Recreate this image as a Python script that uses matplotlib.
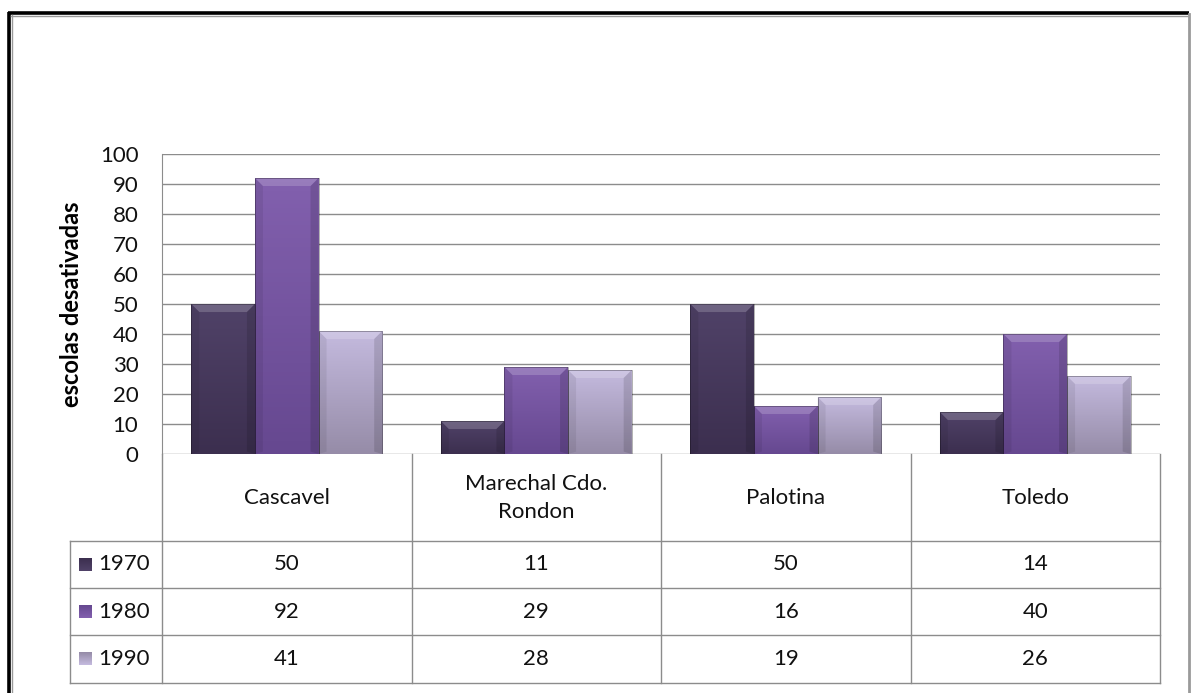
import matplotlib
matplotlib.use('Agg')
import matplotlib.pyplot as plt
import numpy as np
from matplotlib.colors import LinearSegmentedColormap
from matplotlib.patches import Polygon, Rectangle
from matplotlib.transforms import blended_transform_factory

plt.rcParams['font.family'] = ['Lato', 'DejaVu Sans']

# escolas desativadas por município e década
municipios = ['Cascavel', 'Marechal Cdo.\nRondon', 'Palotina', 'Toledo']
anos = ['1970', '1980', '1990']
v1970 = [50, 11, 50, 14]
v1980 = [92, 29, 16, 40]
v1990 = [41, 28, 19, 26]
series = [v1970, v1980, v1990]

# cor do topo e da base de cada série (degradê vertical)
cores = [('#504268', '#3c2f4f'), ('#8260ae', '#664890'), ('#c4bade', '#968ca8')]
fs = 16

W, H = 1191, 693
fig = plt.figure(figsize=(W / 100, H / 100), dpi=100)

# camada em pixels para moldura e tabela
ov = fig.add_axes([0, 0, 1, 1], zorder=0)
ov.set_xlim(0, W)
ov.set_ylim(H, 0)
ov.axis('off')

px_l, px_r, px_t, px_b = 162, 1160, 154, 454
ax = fig.add_axes([px_l / W, (H - px_b) / H, (px_r - px_l) / W, (px_b - px_t) / H], zorder=2)
ax.patch.set_alpha(0)

n = len(municipios)
x = np.arange(n)
bw = 0.255
ax.set_xlim(-0.5, n - 0.5)
ax.set_ylim(0, 100)
ax.set_yticks(range(0, 101, 10))
ax.set_xticks([])
ax.tick_params(axis='y', length=0, pad=17, labelsize=fs, labelcolor='#111111')
ax.grid(axis='y', color='#8c8c8c', lw=1)
ax.set_axisbelow(True)
for s in ['top', 'right', 'bottom']:
    ax.spines[s].set_visible(False)
ax.spines['left'].set_color('#8c8c8c')
ax.set_ylabel('escolas desativadas', fontsize=17, fontweight='bold', labelpad=12)

# barras com degradê e chanfro no topo
sx = (px_r - px_l) / n          # pixels por unidade x
sy = (px_b - px_t) / 100.0      # pixels por unidade y
bev = 8
for k, vals in enumerate(series):
    top, bot = cores[k]
    cmap = LinearSegmentedColormap.from_list('g%d' % k, [bot, top])
    grad = np.linspace(0, 1, 64).reshape(-1, 1)
    bars = ax.bar(x + (k - 1) * bw, vals, bw, color=bot, edgecolor='none', zorder=3)
    for b in bars:
        x0, w, h = b.get_x(), b.get_width(), b.get_height()
        im = ax.imshow(grad, cmap=cmap, origin='lower', aspect='auto',
                       extent=[x0, x0 + w, 0, h], zorder=3.1)
        im.set_clip_path(b)
        dx, dy = bev / sx, min(bev / sy, h / 2)
        ax.add_patch(Polygon([[x0, h], [x0 + w, h], [x0 + w - dx, h - dy], [x0 + dx, h - dy]],
                             closed=True, facecolor='white', alpha=0.18, edgecolor='none', zorder=3.2))
        ax.add_patch(Polygon([[x0, 0], [x0 + dx, dy * 0.3], [x0 + dx, h - dy], [x0, h]],
                             closed=True, facecolor='black', alpha=0.07, edgecolor='none', zorder=3.2))
        ax.add_patch(Polygon([[x0 + w, 0], [x0 + w - dx, dy * 0.3], [x0 + w - dx, h - dy], [x0 + w, h]],
                             closed=True, facecolor='black', alpha=0.12, edgecolor='none', zorder=3.2))
        ax.add_patch(Rectangle((x0, 0), w, h, fill=False, edgecolor='black', lw=0.6, alpha=0.35, zorder=3.3))
ax.set_xlim(-0.5, n - 0.5)
ax.set_ylim(0, 100)

# tabela de dados abaixo do gráfico
lc = '#8c8c8c'
leg_l = 70
row_y = [454, 541, 588, 635, 683]
bx = blended_transform_factory(ax.transData, ov.transData)
for i in range(n + 1):
    ov.add_line(plt.Line2D([i - 0.5, i - 0.5], [row_y[0], row_y[-1]], color=lc, lw=1, transform=bx))
ov.plot([leg_l, leg_l], [row_y[1], row_y[-1]], color=lc, lw=1)
for yy in row_y[1:]:
    ov.plot([leg_l, px_r], [yy, yy], color=lc, lw=1)

for i, m in enumerate(municipios):
    ov.text(i, (row_y[0] + row_y[1]) / 2, m, transform=bx, ha='center', va='center',
            fontsize=fs, color='#111111', linespacing=1.5)
for k, vals in enumerate(series):
    yc = (row_y[k + 1] + row_y[k + 2]) / 2
    for i, v in enumerate(vals):
        ov.text(i, yc, str(v), transform=bx, ha='center', va='center', fontsize=fs, color='#111111')
    top, bot = cores[k]
    cmap = LinearSegmentedColormap.from_list('l%d' % k, [bot, top])
    ov.imshow(np.linspace(0, 1, 16).reshape(-1, 1), cmap=cmap, origin='upper', aspect='auto',
              extent=[79, 92, yc + 6.5, yc - 6.5], zorder=2)
    ov.text(98, yc, anos[k], ha='left', va='center', fontsize=fs, color='#111111')

# moldura externa
ov.plot([9, 9], [12, H], color='black', lw=2.6, solid_capstyle='butt')
ov.plot([8, W - 2], [13, 13], color='black', lw=2.6, solid_capstyle='butt')
ov.plot([11.5, 11.5], [15, H], color='#9a9a9a', lw=1)
ov.plot([11, W - 3], [15.5, 15.5], color='#9a9a9a', lw=1)
ov.plot([W - 2.5, W - 2.5], [14, H], color='#9a9a9a', lw=2)
ov.set_xlim(0, W)
ov.set_ylim(H, 0)

fig.savefig('out.png', dpi=100)
